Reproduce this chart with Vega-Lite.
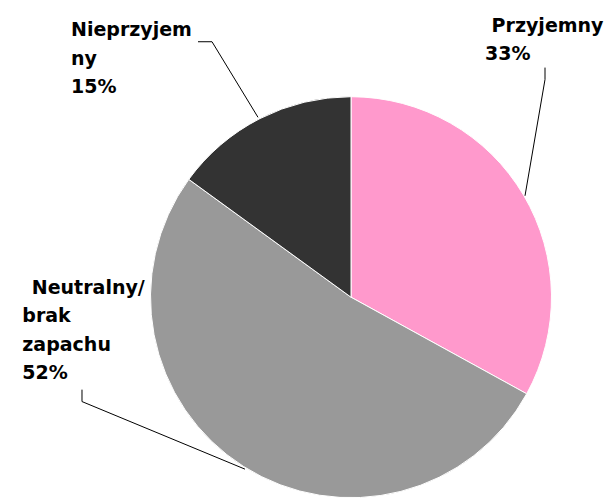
{
  "$schema": "https://vega.github.io/schema/vega-lite/v6.json",
  "width": 607,
  "height": 499,
  "autosize": {"type": "fit", "contains": "padding"},
  "padding": 0,
  "background": "white",
  "config": {"view": {"stroke": null}},
  "datasets": {
    "slices": [
      {"category": "Przyjemny", "share": 33, "rank": 1},
      {"category": "Neutralny/ brak zapachu", "share": 52, "rank": 2},
      {"category": "Nieprzyjemny", "share": 15, "rank": 3}
    ],
    "leaders": [
      {"category": "Nieprzyjemny", "step": 1, "u": -75.74, "v": 127.23},
      {"category": "Nieprzyjemny", "step": 2, "u": -68.81, "v": 127.23},
      {"category": "Nieprzyjemny", "step": 3, "u": -46.04, "v": 89.6},
      {"category": "Przyjemny", "step": 1, "u": 96.04, "v": 114.36},
      {"category": "Przyjemny", "step": 2, "u": 96.04, "v": 108.42},
      {"category": "Przyjemny", "step": 3, "u": 86.14, "v": 50.5},
      {"category": "Neutralny", "step": 1, "u": -133.17, "v": -46.04},
      {"category": "Neutralny", "step": 2, "u": -133.17, "v": -51.98},
      {"category": "Neutralny", "step": 3, "u": -52.48, "v": -85.64}
    ],
    "labels": [
      {"lines": ["Nieprzyjem", "ny", "15%"], "u": -138.61, "v": 129.85},
      {"lines": ["\u200b\u00a0Przyjemny", "33%"], "u": 66.34, "v": 132.33},
      {"lines": ["\u200b\u2002Neutralny/", "brak", "zapachu", "52%"], "u": -162.72, "v": 1.83}
    ]
  },
  "layer": [
    {
      "data": {"name": "slices"},
      "mark": {"type": "arc", "radius": 200.5, "stroke": "white", "strokeWidth": 1},
      "encoding": {
        "x": {"datum": 0, "type": "quantitative", "scale": {"domain": [-173.76, 126.73], "nice": false, "zero": false}, "axis": null},
        "y": {"datum": 0, "type": "quantitative", "scale": {"domain": [-99.01, 148.02], "nice": false, "zero": false}, "axis": null},
        "theta": {"field": "share", "type": "quantitative", "stack": true},
        "order": {"field": "rank", "type": "quantitative"},
        "color": {
          "field": "category",
          "type": "nominal",
          "scale": {"domain": ["Przyjemny", "Neutralny/ brak zapachu", "Nieprzyjemny"], "range": ["#FF99CC", "#999999", "#333333"]},
          "legend": null
        }
      }
    },
    {
      "data": {"name": "leaders"},
      "mark": {"type": "line", "color": "black", "strokeWidth": 1},
      "encoding": {
        "x": {"field": "u", "type": "quantitative"},
        "y": {"field": "v", "type": "quantitative"},
        "detail": {"field": "category"},
        "order": {"field": "step", "type": "quantitative"}
      }
    },
    {
      "data": {"name": "labels"},
      "mark": {"type": "text", "align": "left", "baseline": "alphabetic", "font": "DejaVu Sans", "fontWeight": "bold", "fontSize": 19, "lineHeight": 28.5, "color": "black"},
      "encoding": {
        "x": {"field": "u", "type": "quantitative"},
        "y": {"field": "v", "type": "quantitative"},
        "text": {"field": "lines"}
      }
    }
  ]
}
